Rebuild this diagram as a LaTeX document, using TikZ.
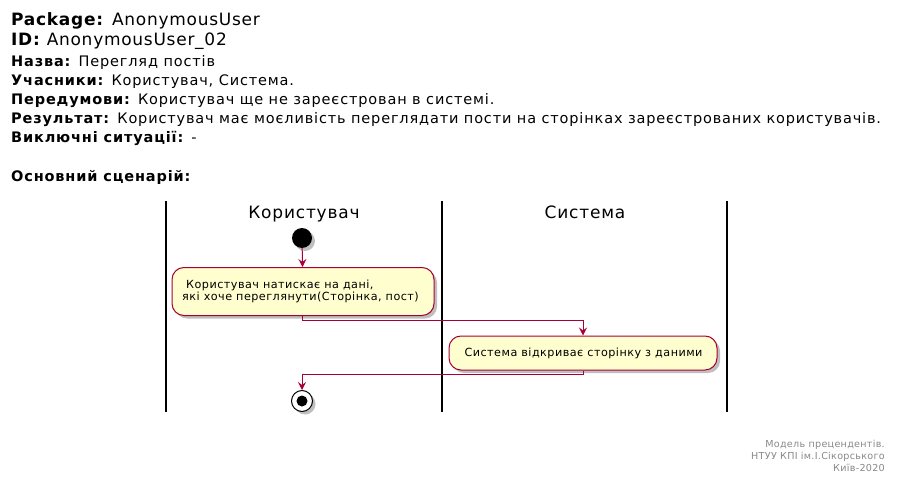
\documentclass[tikz,border=0pt]{standalone}
\usepackage{fontspec}
\setmainfont{DejaVu Sans}
\newfontfamily\hdrfont[LetterSpace=5.8]{DejaVu Sans}
\newfontfamily\bigfont[LetterSpace=4.3]{DejaVu Sans}
\newfontfamily\lanefont[LetterSpace=4.7]{DejaVu Sans}
\newfontfamily\actfont[LetterSpace=4.2]{DejaVu Sans}
\newfontfamily\footfont[LetterSpace=3]{DejaVu Sans}
\usetikzlibrary{arrows.meta,shadows}
\definecolor{umlred}{HTML}{A80036}
\definecolor{umlfill}{HTML}{FEFECE}
\definecolor{footgray}{HTML}{888888}
\tikzset{
  hdr/.style={anchor=base west, inner sep=0pt, font=\hdrfont\fontsize{14.5}{17}\selectfont},
  bighdr/.style={anchor=base west, inner sep=0pt, font=\bigfont\fontsize{17}{20}\selectfont},
  lane/.style={line width=2pt, black},
  lanetitle/.style={anchor=base, inner sep=0pt, font=\lanefont\fontsize{17}{20}\selectfont},
  act/.style={draw=umlred, fill=umlfill, rounded corners=12pt, line width=1pt,
    inner sep=0pt, font=\actfont\fontsize{11.2}{12.6}\selectfont,
    drop shadow={shadow xshift=3pt, shadow yshift=-3pt, opacity=0.25, fill=black}},
  flow/.style={draw=umlred, line width=1pt, -{Stealth[length=8pt,width=8pt,inset=3pt]}},
  foot/.style={anchor=base east, inner sep=0pt, text=footgray, font=\footfont\fontsize{9.6}{11}\selectfont},
}
\begin{document}
\begin{tikzpicture}[x=1pt,y=-1pt]
\useasboundingbox (0,0) rectangle (897,484);
% header
\node[bighdr] (h1) at (11,26) {\textbf{Package:} AnonymousUser};
\node[bighdr] (h2) at (11,45.5) {\textbf{ID:} AnonymousUser\_02};
\node[hdr] (h3) at (11,67) {\textbf{Назва:} Перегляд постів};
\node[hdr] (h4) at (11,85.5) {\textbf{Учасники:} Користувач, Система.};
\node[hdr] (h5) at (11,104.5) {\textbf{Передумови:} Користувач ще не зареєстрован в системі.};
\node[hdr] (h6) at (11,123.5) {\textbf{Результат:} Користувач має моєливість переглядати пости на сторінках зареєстрованих користувачів.};
\node[hdr] (h7) at (11,142.5) {\textbf{Виключні ситуації:} -};
\node[hdr] (h8) at (11,182) {\textbf{Основний сценарій:}};
% swimlanes
\draw[lane] (166,201) -- (166,412);
\draw[lane] (442,201) -- (442,412);
\draw[lane] (727,201) -- (727,412);
\node[lanetitle] (l1) at (304,218) {Користувач};
\node[lanetitle] (l2) at (585,218) {Система};
% start
\node[circle, fill=black, minimum size=20pt, inner sep=0pt,
  drop shadow={shadow xshift=3pt, shadow yshift=-3pt, opacity=0.25, fill=black}] (start) at (302,238) {};
% activities
\node[act, minimum width=262pt, minimum height=48pt, align=left] (a1) at (303,291.5)
  {\ Користувач натискає на дані,\\ які хоче переглянути(Сторінка, пост)\hspace*{5pt}};
\node[act, minimum width=268pt, minimum height=34pt] (a2) at (583,353)
  {\ Система відкриває сторінку з даними\hspace*{3pt}};
% end
\node[circle, draw=black, fill=white, line width=1pt, minimum size=21pt, inner sep=0pt,
  drop shadow={shadow xshift=3pt, shadow yshift=-3pt, opacity=0.25, fill=black}] (stop) at (302,401) {};
\node[circle, fill=black, minimum size=11pt, inner sep=0pt] (stopin) at (stop.center) {};
% flows
\draw[flow] (start) -- (a1);
\coordinate (c1) at (302,320.5);
\coordinate (c2) at (583,320.5);
\draw[flow] (a1.south -| c1) -- (c1) -- (c2) -- (a2.north -| c2);
\coordinate (c3) at (583,374);
\coordinate (c4) at (302,374);
\draw[flow] (a2.south -| c3) -- (c3) -- (c4) -- (stop.north);
% footer
\node[foot] (f1) at (885,447) {Модель прецендентів.};
\node[foot] (f2) at (885,459) {НТУУ КПІ ім.І.Сікорського};
\node[foot] (f3) at (885,471) {Київ-2020};
\end{tikzpicture}
\end{document}
